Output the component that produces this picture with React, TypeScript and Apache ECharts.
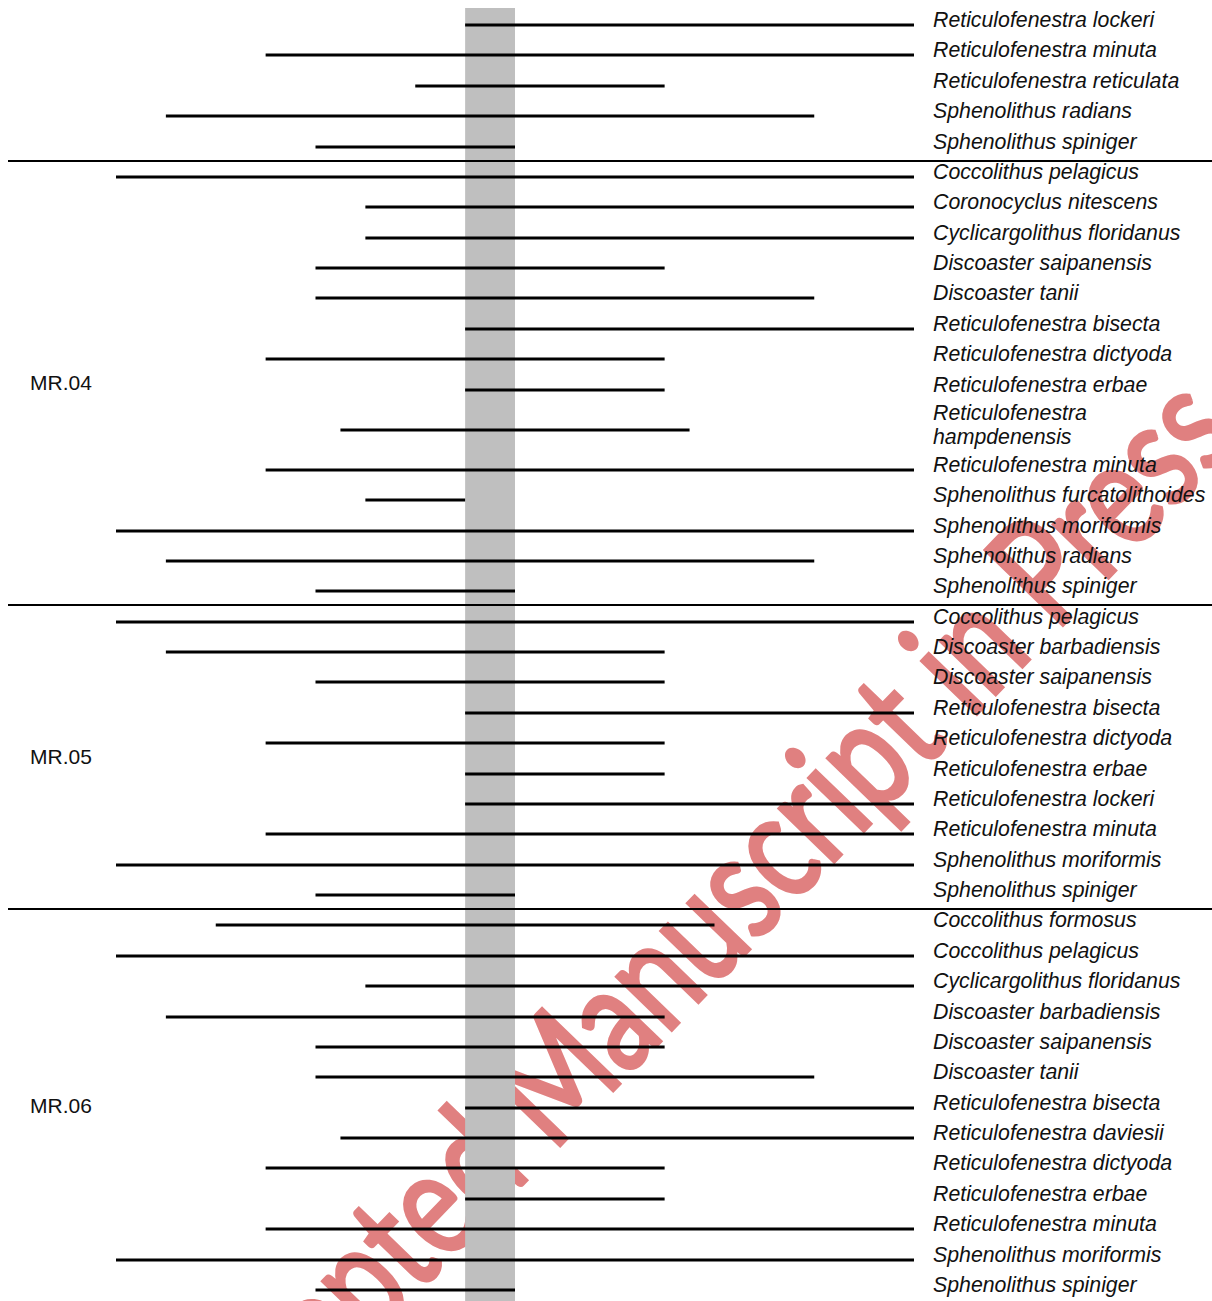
import React, { useEffect, useRef } from "react";
import * as echarts from "echarts";

// ---- Data ----
const groupNames: string[] = ["", "MR.04", "MR.05", "MR.06"];

const speciesG0: string[] = [
  "Reticulofenestra lockeri",
  "Reticulofenestra minuta",
  "Reticulofenestra reticulata",
  "Sphenolithus radians",
  "Sphenolithus spiniger",
];
const startG0: number[] = [7, 3, 6, 1, 4];
const endG0: number[] = [16, 16, 11, 14, 8];

const speciesG1: string[] = [
  "Coccolithus pelagicus",
  "Coronocyclus nitescens",
  "Cyclicargolithus floridanus",
  "Discoaster saipanensis",
  "Discoaster tanii",
  "Reticulofenestra bisecta",
  "Reticulofenestra dictyoda",
  "Reticulofenestra erbae",
  "Reticulofenestra\nhampdenensis",
  "Reticulofenestra minuta",
  "Sphenolithus furcatolithoides",
  "Sphenolithus moriformis",
  "Sphenolithus radians",
  "Sphenolithus spiniger",
];
const startG1: number[] = [0, 5, 5, 4, 4, 7, 3, 7, 4.5, 3, 5, 0, 1, 4];
const endG1: number[] = [16, 16, 16, 11, 14, 16, 11, 11, 11.5, 16, 7, 16, 14, 8];

const speciesG2: string[] = [
  "Coccolithus pelagicus",
  "Discoaster barbadiensis",
  "Discoaster saipanensis",
  "Reticulofenestra bisecta",
  "Reticulofenestra dictyoda",
  "Reticulofenestra erbae",
  "Reticulofenestra lockeri",
  "Reticulofenestra minuta",
  "Sphenolithus moriformis",
  "Sphenolithus spiniger",
];
const startG2: number[] = [0, 1, 4, 7, 3, 7, 7, 3, 0, 4];
const endG2: number[] = [16, 11, 11, 16, 11, 11, 16, 16, 16, 8];

const speciesG3: string[] = [
  "Coccolithus formosus",
  "Coccolithus pelagicus",
  "Cyclicargolithus floridanus",
  "Discoaster barbadiensis",
  "Discoaster saipanensis",
  "Discoaster tanii",
  "Reticulofenestra bisecta",
  "Reticulofenestra daviesii",
  "Reticulofenestra dictyoda",
  "Reticulofenestra erbae",
  "Reticulofenestra minuta",
  "Sphenolithus moriformis",
  "Sphenolithus spiniger",
];
const startG3: number[] = [2, 0, 5, 1, 4, 4, 7, 4.5, 3, 7, 3, 0, 4];
const endG3: number[] = [12, 16, 16, 11, 11, 14, 16, 16, 11, 11, 16, 16, 8];

const bandRange: number[] = [7, 8];
const xMin = 0;
const xMax = 16;
const watermarkText = "Accepted Manuscript in Press";

// ---- Derived rows ----
const groupSpecies = [speciesG0, speciesG1, speciesG2, speciesG3];
const groupStarts = [startG0, startG1, startG2, startG3];
const groupEnds = [endG0, endG1, endG2, endG3];

type Row = { label: string; start: number; end: number; slot: number; group: number };
const rows: Row[] = [];
{
  let slot = 0;
  let prevMulti = false;
  groupSpecies.forEach((list, g) => {
    list.forEach((label, i) => {
      const multi = label.includes("\n");
      if (rows.length > 0) {
        slot += 1 + (prevMulti ? 0.32 : 0) + (multi ? 0.32 : 0);
      }
      rows.push({ label, start: groupStarts[g][i], end: groupEnds[g][i], slot, group: g });
      prevMulti = multi;
    });
  });
}
const lastSlot = rows[rows.length - 1].slot;

const separators: number[] = [];
const groupMids: { name: string; slot: number }[] = [];
groupNames.forEach((name, g) => {
  const gr = rows.filter((r) => r.group === g);
  const first = gr[0].slot;
  const last = gr[gr.length - 1].slot;
  if (name) groupMids.push({ name, slot: (first + last) / 2 });
  const next = rows.find((r) => r.group === g + 1);
  if (next) separators.push((last + next.slot) / 2);
});

const FONT = '"Liberation Sans", Arial, Helvetica, sans-serif';

export default function App() {
  const ref = useRef<HTMLDivElement>(null);
  useEffect(() => {
    if (!ref.current) return;
    const chart = echarts.init(ref.current, undefined, { renderer: "svg" });
    const option: any = {
      animation: false,
      backgroundColor: "#ffffff",
      grid: { left: 116, right: 298, top: 25, bottom: 11 },
      xAxis: { type: "value", min: xMin, max: xMax, show: false },
      yAxis: { type: "value", min: 0, max: lastSlot, inverse: true, show: false },
      graphic: {
        elements: [
          {
            type: "text",
            z: 0,
            x: 680,
            y: 938,
            rotation: (46 * Math.PI) / 180,
            scaleX: 0.77,
            scaleY: 1,
            silent: true,
            style: {
              text: watermarkText,
              font: '150px Lato, "Open Sans", sans-serif',
              fill: "#e08080",
              stroke: "#e08080",
              lineWidth: 4,
              lineJoin: "round",
              align: "center",
              verticalAlign: "middle",
              textAlign: "center",
              textVerticalAlign: "middle",
            },
          },
        ],
      },
      series: [
        {
          type: "custom",
          name: "band",
          z: 2,
          clip: false,
          data: [[bandRange[0], bandRange[1]]],
          renderItem: (params: any, api: any) => {
            const x1 = api.coord([api.value(0), 0])[0];
            const x2 = api.coord([api.value(1), 0])[0];
            return {
              type: "rect",
              shape: { x: x1, y: 8, width: x2 - x1, height: api.getHeight() - 8 },
              style: { fill: "#bfbfbf" },
            };
          },
        },
        {
          type: "custom",
          name: "separators",
          z: 3,
          clip: false,
          data: separators.map((s) => [0, s]),
          renderItem: (params: any, api: any) => {
            const y = Math.round(api.coord([0, api.value(1)])[1]) - 1;
            return {
              type: "line",
              shape: { x1: 8, y1: y, x2: api.getWidth(), y2: y },
              style: { stroke: "#000000", lineWidth: 2 },
            };
          },
        },
        {
          type: "custom",
          name: "groups",
          z: 4,
          clip: false,
          data: groupMids.map((g) => [0, g.slot]),
          renderItem: (params: any, api: any) => {
            const y = api.coord([0, api.value(1)])[1] - 2;
            return {
              type: "text",
              x: 30,
              y: y,
              style: {
                text: groupMids[params.dataIndex].name,
                font: "21px " + FONT,
                fill: "#111111",
                align: "left",
                verticalAlign: "middle",
                textAlign: "left",
                textVerticalAlign: "middle",
              },
            };
          },
        },
        {
          type: "custom",
          name: "ranges",
          z: 5,
          clip: false,
          data: rows.map((r) => [r.start, r.end, r.slot]),
          renderItem: (params: any, api: any) => {
            const slot = api.value(2);
            const p1 = api.coord([api.value(0), slot]);
            const p2 = api.coord([api.value(1), slot]);
            const lx = api.coord([xMax, slot])[0] + 19;
            const y = Math.round(p1[1]);
            return {
              type: "group",
              children: [
                {
                  type: "line",
                  shape: { x1: p1[0], y1: y, x2: p2[0], y2: y },
                  style: { stroke: "#000000", lineWidth: 3 },
                },
                {
                  type: "text",
                  x: lx,
                  y: y - 5,
                  style: {
                    text: rows[params.dataIndex].label,
                    font: "italic 21.3px " + FONT,
                    fill: "#111111",
                    lineHeight: 24,
                    align: "left",
                    verticalAlign: "middle",
                    textAlign: "left",
                    textVerticalAlign: "middle",
                  },
                },
              ],
            };
          },
        },
      ],
    };
    chart.setOption(option);
    return () => chart.dispose();
  }, []);
  return (
    <div
      ref={ref}
      style={{ position: "absolute", left: 0, top: 0, width: 1212, height: 1301 }}
    />
  );
}
